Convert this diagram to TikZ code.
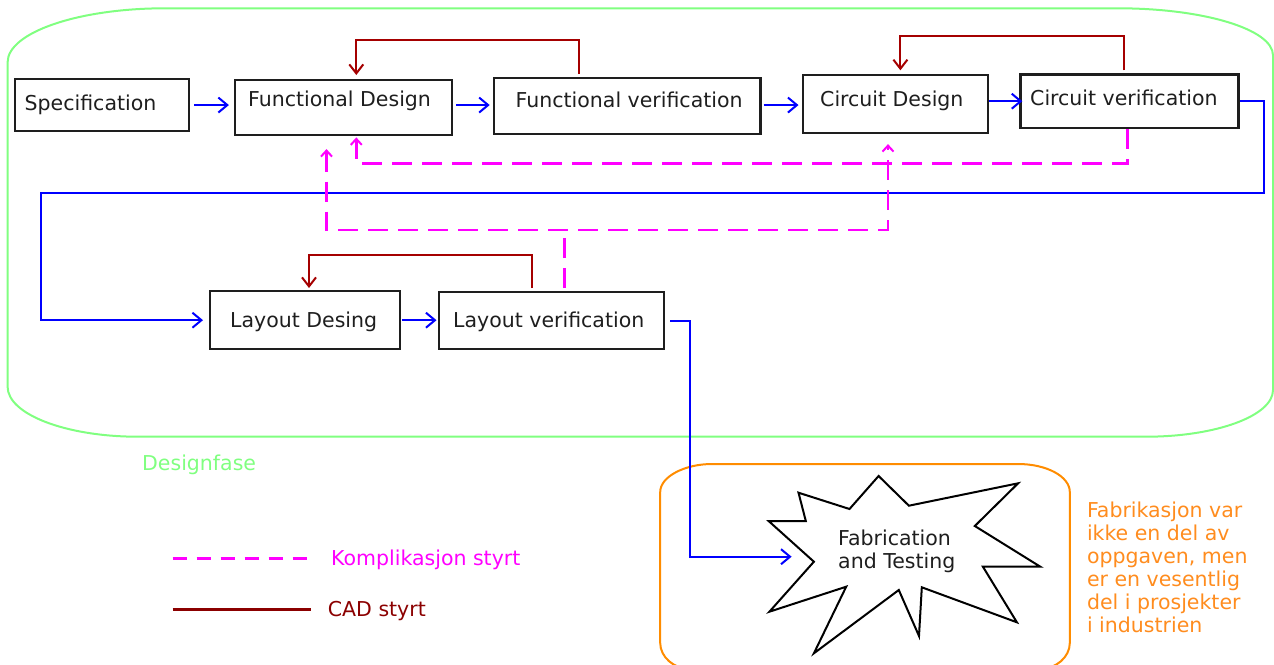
\documentclass[tikz,border=0pt]{standalone}
\usepackage{fontspec}
\setmainfont{DejaVu Sans}
\usetikzlibrary{arrows.meta,calc}
\definecolor{flowblue}{RGB}{0,0,255}
\definecolor{cadred}{RGB}{165,0,0}
\definecolor{legred}{RGB}{139,0,0}
\definecolor{kmag}{RGB}{255,0,255}
\definecolor{dgreen}{RGB}{128,255,128}
\definecolor{forange}{RGB}{255,140,0}
\definecolor{torange}{RGB}{255,140,30}
\definecolor{boxline}{RGB}{30,30,30}
\tikzset{ktip/.tip={Straight Barb[length=6pt,width=11pt,line width=2pt]}}
\begin{document}
\begin{tikzpicture}[x=1pt,y=-1pt,
  box/.style={draw=boxline, line width=2.4pt, inner sep=0pt, anchor=north west},
  lbl/.style={anchor=base west, inner sep=0pt, font=\fontsize{20.5}{23.2}\selectfont, text=boxline},
  flow/.style={draw=flowblue, line width=2pt, -{Straight Barb[length=9pt,width=15pt,line width=2pt]}},
  cad/.style={draw=cadred, line width=2pt, -{Straight Barb[length=9pt,width=14pt,line width=2pt]}},
  kline/.style={draw=kmag, line width=2.5pt, dash pattern=on 20pt off 10pt},
  fase/.style={draw=dgreen, line width=2pt},
  fabbox/.style={draw=forange, line width=2pt},
  burst/.style={draw=black, line width=2pt, line join=miter},
]
\useasboundingbox (0,0) rectangle (1274,664);

% Designfase outline
\draw[fase] (7.6,62.3) .. controls (7.6,32.5) and (78.3,8.3) .. (165,8.3)
  -- (1118,8.3) .. controls (1203.6,8.3) and (1273,29.3) .. (1273,55.3)
  -- (1273,390) .. controls (1273,415.8) and (1216.1,436.7) .. (1146,436.7)
  -- (138,436.7) .. controls (66,436.7) and (7.6,414.3) .. (7.6,386.7) -- cycle;
\node[lbl, text=dgreen] (fase) at (142,470) {Designfase};

% Fabrication outline
\draw[fabbox] (660.2,492) .. controls (660.2,476.5) and (685,464) .. (712,464)
  -- (1018,464) .. controls (1046.7,464) and (1069.8,476.5) .. (1069.8,492)
  -- (1069.8,643) .. controls (1069.8,657) and (1056,669) .. (1040,669)
  -- (690,669) .. controls (674,669) and (660.2,657) .. (660.2,643) -- cycle;

% boxes
\node[box, minimum width=174.3pt, minimum height=52.3pt] (spec) at (13.5,77.7) {};
\node[box, minimum width=216.7pt, minimum height=54.7pt] (fd) at (233.9,79) {};
\node[box, minimum width=266.6pt, minimum height=55.7pt] (fv) at (492.7,77) {};
\node[box, minimum width=184.5pt, minimum height=57.7pt] (cd) at (802,74) {};
\node[box, minimum width=217.9pt, minimum height=53.4pt] (cv) at (1019.3,73.3) {};
\node[box, minimum width=189.7pt, minimum height=58pt] (ld) at (209,290) {};
\node[box, minimum width=225pt, minimum height=57pt] (lv) at (438,291) {};

\node[lbl] (spect) at (24.5,110) {Specification};
\node[lbl] (fdt) at (248,106) {Functional Design};
\node[lbl] (fvt) at (515.5,107) {Functional verification};
\node[lbl] (cdt) at (820,106) {Circuit Design};
\node[lbl] (cvt) at (1030,105) {Circuit verification};
\node[lbl] (ldt) at (230,327.7) {Layout Desing};
\node[lbl] (lvt) at (453,327.7) {Layout verification};

% starburst
\draw[burst] (878.6,476) -- (908.9,505.7) -- (1018.1,483.3) -- (974.8,526)
  -- (1040.3,566.7) -- (982.9,566.7) -- (1016.9,622.3) -- (921.8,587.3)
  -- (919,636) -- (898.8,590) -- (813.9,653.3) -- (846.2,586.7)
  -- (769.4,611.7) -- (813.9,561.7) -- (768.6,521) -- (805.8,521)
  -- (798.5,492.7) -- (849.5,509) -- cycle;
\node[lbl] (fab1) at (838,545) {Fabrication};
\node[lbl] (fab2) at (838,568.3) {and Testing};

% orange note
\node[lbl, text=torange] (o1) at (1086.8,517.3) {Fabrikasjon var};
\node[lbl, text=torange] (o2) at (1086.8,540.4) {ikke en del av};
\node[lbl, text=torange] (o3) at (1086.8,563.5) {oppgaven, men};
\node[lbl, text=torange] (o4) at (1086.8,586.6) {er en vesentlig};
\node[lbl, text=torange] (o5) at (1086.8,609.7) {del i prosjekter};
\node[lbl, text=torange] (o6) at (1086.8,632.8) {i industrien};

% flow arrows
\draw[flow, shorten <=4pt, shorten >=5pt] (spec.east) -- (spec.east -| fd.west);
\draw[flow, shorten <=3pt, shorten >=3pt] (fd.east |- spec.east) -- (fv.west |- spec.east);
\draw[flow, shorten <=2pt, shorten >=3.5pt] (fv.east |- spec.east) -- (cd.west |- spec.east);
\draw[flow, shorten >=-3pt] (cd.east |- cv.west) -- (cv.west);
\coordinate (loopR) at (1264.2,192.7);
\coordinate (loopL) at (40.8,192.7);
\draw[flow, shorten >=6pt] (cv.east) -| (loopR) -- (loopL) |- (ld.west);
\draw[flow, shorten <=1pt, shorten >=1.5pt] (ld.east) -- (ld.east -| lv.west);
\coordinate (jog) at (689.7,556.7);
\coordinate (fabIn) at (791.6,556.7);
\draw[flow, shorten <=5pt] (lv.east) -| (jog) -- (fabIn);

% CAD feedback
\coordinate (c1a) at (579,40.3); \coordinate (c1b) at (356.3,40.3);
\draw[cad, shorten <=3pt, shorten >=4pt] (c1a |- fv.north) -- (c1a) -- (c1b) -- (c1b |- fd.north);
\coordinate (c2a) at (1123.6,36); \coordinate (c2b) at (900.4,36);
\draw[cad, shorten <=3pt, shorten >=3.7pt] (c2a |- cv.north) -- (c2a) -- (c2b) -- (c2b |- cd.north);
\coordinate (c3a) at (532,255); \coordinate (c3b) at (309,255);
\draw[cad, shorten <=3pt, shorten >=2pt] (c3a |- lv.north) -- (c3a) -- (c3b) -- (c3b |- ld.north);

% complication feedback
\coordinate (k1a) at (1127.3,163.3); \coordinate (k1b) at (356.3,163.3);
\draw[kline, -ktip, shorten >=1.3pt] (k1a |- cv.south) -- (k1a) -- (k1b) -- (k1b |- fd.south);
\coordinate (k2) at (564.6,230); \coordinate (k2l) at (326.5,230); \coordinate (k2r) at (888,230);
\draw[kline, shorten <=3pt] (k2 |- lv.north) -- (k2);
\draw[kline, ktip-ktip, shorten <=13pt, shorten >=10pt] (k2l |- fd.south) -- (k2l) -- (k2r) -- (k2r |- cd.south);

% legend
\coordinate (lg1a) at (172.7,558.3); \coordinate (lg1b) at (310.7,558.3);
\draw[draw=kmag, line width=3pt, dash pattern=on 14pt off 10pt] (lg1a) -- (lg1b);
\node[lbl, text=kmag] (leg1) at (331,565) {Komplikasjon styrt};
\coordinate (lg2a) at (172.7,609.3); \coordinate (lg2b) at (310.7,609.3);
\draw[draw=legred, line width=3pt] (lg2a) -- (lg2b);
\node[lbl, text=legred] (leg2) at (327.7,616.7) {CAD styrt};
\end{tikzpicture}
\end{document}
